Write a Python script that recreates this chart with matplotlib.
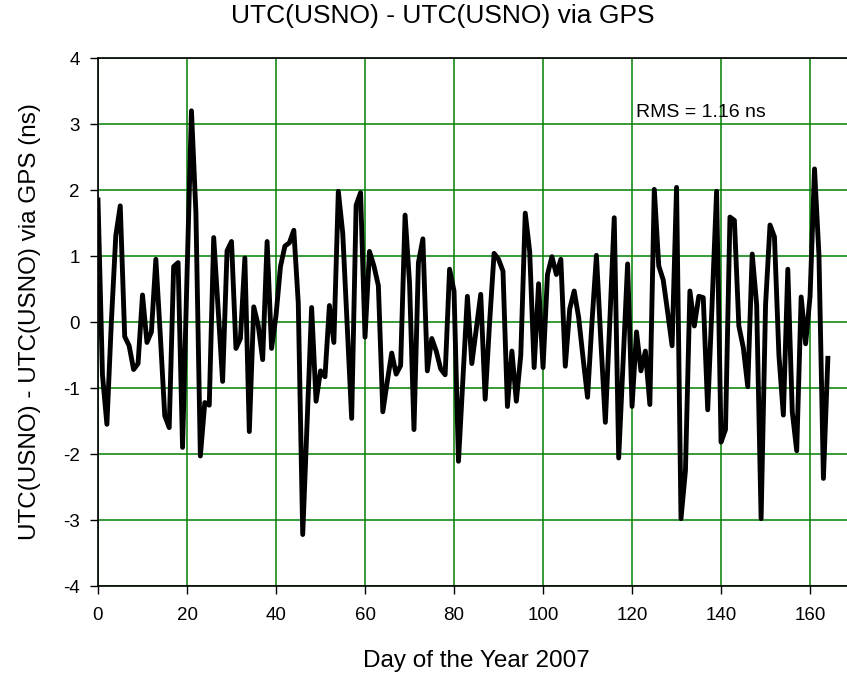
import numpy as np
import matplotlib
matplotlib.use('Agg')
import matplotlib.pyplot as plt

plt.rcParams['font.family'] = ['Liberation Sans', 'DejaVu Sans']
plt.rcParams['axes.unicode_minus'] = False

# Day of year and UTC(USNO) - UTC(USNO) via GPS in ns
days = list(range(0, 165))
offset_ns = [
    1.85, -0.8, -1.55, 0.0, 1.31, 1.76, -0.22, -0.36, -0.72, -0.63,
    0.41, -0.31, -0.15, 0.95, -0.2, -1.42, -1.6, 0.84, 0.9, -1.9,
    0.7, 3.2, 1.66, -2.03, -1.22, -1.26, 1.28, 0.2, -0.9, 1.08,
    1.22, -0.4, -0.25, 0.97, -1.66, 0.23, -0.05, -0.57, 1.22, -0.4,
    0.1, 0.84, 1.15, 1.2, 1.39, 0.29, -3.22, -1.5, 0.22, -1.2,
    -0.74, -0.83, 0.25, -0.31, 1.98, 1.34, -0.06, -1.46, 1.77, 1.96,
    -0.23, 1.07, 0.85, 0.55, -1.36, -0.9, -0.47, -0.79, -0.66, 1.62,
    0.6, -1.63, 0.9, 1.26, -0.74, -0.25, -0.44, -0.71, -0.8, 0.8,
    0.47, -2.11, -0.85, 0.39, -0.63, -0.1, 0.42, -1.17, 0.0, 1.04,
    0.95, 0.77, -1.28, -0.44, -1.2, -0.5, 1.65, 1.07, -0.69, 0.58,
    -0.69, 0.72, 0.99, 0.72, 0.95, -0.67, 0.2, 0.47, 0.07, -0.55,
    -1.14, 0.0, 1.01, -0.3, -1.52, 0.0, 1.58, -2.06, -0.6, 0.88,
    -1.28, -0.15, -0.74, -0.44, -1.25, 2.01, 0.85, 0.64, 0.15, -0.36,
    2.04, -2.98, -2.25, 0.47, -0.06, 0.39, 0.37, -1.33, 0.3, 1.98,
    -1.82, -1.63, 1.59, 1.54, -0.06, -0.39, -0.98, 1.03, 0.26, -2.98,
    0.26, 1.47, 1.29, -0.5, -1.41, 0.8, -1.36, -1.95, 0.38, -0.33,
    0.39, 2.32, 1.01, -2.37, -0.55,
]
rms_text = "RMS = 1.16 ns"

fig = plt.figure(figsize=(8.47, 6.76), dpi=100)
ax = fig.add_axes([0.1157, 0.1331, 1.0 - 0.1157, 0.9142 - 0.1331])

ax.plot(days, offset_ns, color='black', linewidth=3.5, zorder=3)

ax.set_xlim(0, 168.3)
ax.set_ylim(-4, 4)
ax.set_xticks(np.arange(0, 161, 20))
ax.set_yticks(np.arange(-4, 5, 1))
ax.grid(True, color='#008000', linewidth=1.1)
ax.tick_params(direction='out', length=6, width=1, labelsize=13.5)
ax.tick_params(axis='x', pad=9)
ax.tick_params(axis='y', pad=7)
ax.spines['right'].set_visible(False)
for s in ['left', 'top', 'bottom']:
    ax.spines[s].set_linewidth(1.2)

ax.set_title("UTC(USNO) - UTC(USNO) via GPS", fontsize=19, x=0.46, y=1.064, va='center')
ax.set_xlabel("Day of the Year 2007", fontsize=17.5)
ax.xaxis.label.set_verticalalignment('center')
ax.xaxis.set_label_coords(0.505, -0.142)
ax.set_ylabel("UTC(USNO) - UTC(USNO) via GPS (ns)", fontsize=17.5)
ax.yaxis.label.set_verticalalignment('center')
ax.yaxis.set_label_coords(-0.091, 0.5)
ax.text(121, 3.17, rms_text, fontsize=14, va='center', ha='left')

fig.savefig("out.png", dpi=100)
